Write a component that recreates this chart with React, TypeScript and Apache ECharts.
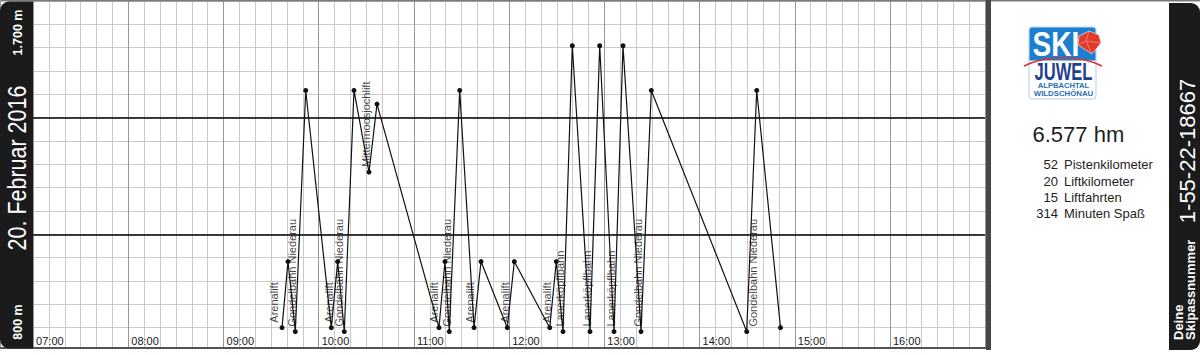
import React, { useEffect, useRef } from "react";
import * as echarts from "echarts";

// ---- data ----
const lifts = [
  "Arenalift", "Gondelbahn Niederau", "Arenalift", "Gondelbahn Niederau", "Mittermoosjochlift",
  "Arenalift", "Gondelbahn Niederau", "Arenalift", "Arenalift", "Arenalift",
  "Lanerköpflbahn", "Lanerköpflbahn", "Lanerköpflbahn", "Gondelbahn Niederau", "Gondelbahn Niederau",
];
const boardTimes = [
  "09:36:52", "09:45:14", "10:07:55", "10:16:07", "10:31:41",
  "11:15:47", "11:22:17", "11:37:52", "11:58:50", "12:25:34",
  "12:33:56", "12:50:57", "13:06:05", "13:23:06", "14:29:42",
];
const boardAltitudes = [860, 850, 860, 850, 1260, 860, 850, 860, 860, 860, 850, 850, 850, 850, 850];
const summitTimes = [
  "09:40:38", "09:51:48", "10:11:58", "10:22:13", "10:36:43",
  "11:19:34", "11:28:50", "11:42:16", "12:03:15", "12:29:43",
  "12:39:48", "12:57:04", "13:11:45", "13:29:36", "14:36:01",
];
const summitAltitudes = [1030, 1470, 1030, 1470, 1435, 1030, 1470, 1030, 1030, 1030, 1585, 1585, 1585, 1470, 1470];
const scanTimes = [
  "09:31:30", "09:43:10", "10:06:30", "10:13:05", "10:29:47",
  "11:12:28", "11:20:38", "11:35:31", "11:57:11", "12:23:52",
  "12:32:02", "12:49:19", "13:04:04", "13:21:23", "14:33:40",
];
const finishTime = "14:51:00";
const finishAltitude = 860;

const hourLabels = ["07:00", "08:00", "09:00", "10:00", "11:00", "12:00", "13:00", "14:00", "15:00", "16:00", "17:00"];
const altitudeMin = 800;
const altitudeMax = 1700;
const altitudeStep = 60;
const boldLines = [1100, 1400];
const altitudeLabels = ["1.700 m", "800 m"];

const dateLabel = "20. Februar 2016";
const totalHm = "6.577 hm";
const statValues = ["52", "20", "15", "314"];
const statLabels = ["Pistenkilometer", "Liftkilometer", "Liftfahrten", "Minuten Spaß"];
const passNumber = "1-55-22-18667";
const passCaption = ["Deine", "Skipassnummer"];

const toMin = (t: string) => {
  const [h, m, s] = t.split(":").map(Number);
  return h * 60 + m + (s || 0) / 60;
};

const FONT = "'Liberation Sans', Arial, Helvetica, sans-serif";

function txt(o: any) {
  const st = o.style || {};
  if (st.textAlign) st.align = st.textAlign;
  if (st.textVerticalAlign) st.verticalAlign = st.textVerticalAlign;
  return { type: "text", z: 110, ...o, style: { fontFamily: FONT, ...st } };
}

export default function App() {
  const ref = useRef<HTMLDivElement>(null);
  useEffect(() => {
    if (!ref.current) return;
    const chart = echarts.init(ref.current, undefined, { renderer: "svg" });

    const lineData: number[][] = [];
    for (let i = 0; i < lifts.length; i++) {
      lineData.push([toMin(boardTimes[i]), boardAltitudes[i]]);
      lineData.push([toMin(summitTimes[i]), summitAltitudes[i]]);
    }
    lineData.push([toMin(finishTime), finishAltitude]);

    const labelData = lifts.map((name, i) => ({
      name,
      value: [toMin(scanTimes[i]), boardAltitudes[i]],
    }));

    const xMin = toMin(hourLabels[0]);
    const xMax = toMin(hourLabels[hourLabels.length - 1]);

    const graphics: any[] = [
      { type: "rect", z: 100, shape: { x: 0, y: 349, width: 1200, height: 6 }, style: { fill: "#ffffff" } },
      { type: "rect", z: 101, shape: { x: 0, y: 0, width: 1200, height: 1.5 }, style: { fill: "#7a7a7a" } },
      { type: "rect", z: 101, shape: { x: 0, y: 0, width: 1, height: 349 }, style: { fill: "#9a9a9a" } },
      { type: "rect", z: 101, shape: { x: 0, y: 347, width: 990, height: 2 }, style: { fill: "#555555" } },
      { type: "rect", z: 101, shape: { x: 986, y: 0, width: 5, height: 350 }, style: { fill: "#474747" } },
      { type: "rect", z: 100, shape: { x: 991, y: 1.5, width: 178, height: 348 }, style: { fill: "#ffffff" } },
      { type: "rect", z: 102, shape: { x: 0, y: 1.5, width: 33, height: 347, r: [9, 0, 0, 9] }, style: { fill: "#1b1b1b" } },
      { type: "rect", z: 102, shape: { x: 1169, y: 3, width: 31, height: 347, r: [0, 9, 9, 0] }, style: { fill: "#1b1b1b" } },

      txt({ x: 18, y: 32.5, rotation: Math.PI / 2, style: { text: altitudeLabels[0], fill: "#fff", fontSize: 12.5, fontWeight: "bold", textAlign: "center", textVerticalAlign: "middle" } }),
      txt({ x: 17, y: 168, rotation: Math.PI / 2, scaleX: 0.86, style: { text: dateLabel, fill: "#fff", fontSize: 25, textAlign: "center", textVerticalAlign: "middle" } }),
      txt({ x: 18, y: 322, rotation: Math.PI / 2, style: { text: altitudeLabels[1], fill: "#fff", fontSize: 12.5, fontWeight: "bold", textAlign: "center", textVerticalAlign: "middle" } }),

      txt({ x: 1187, y: 151, rotation: Math.PI / 2, style: { text: passNumber, fill: "#fff", fontSize: 22, textAlign: "center", textVerticalAlign: "middle" } }),
      txt({ x: 1178.5, y: 340, rotation: Math.PI / 2, style: { text: passCaption[0], fill: "#fff", fontSize: 13, fontWeight: "bold", textAlign: "left", textVerticalAlign: "middle" } }),
      txt({ x: 1190.5, y: 340, rotation: Math.PI / 2, style: { text: passCaption[1], fill: "#fff", fontSize: 13, fontWeight: "bold", textAlign: "left", textVerticalAlign: "middle" } }),

      txt({ x: 1032.5, y: 134, style: { text: totalHm, fill: "#1e1e1e", fontSize: 22, textAlign: "left", textVerticalAlign: "middle" } }),

      // logo
      { type: "rect", z: 103, shape: { x: 1029, y: 27, width: 67, height: 72, r: 3 }, style: { fill: "#ffffff", stroke: "#b4cde6", lineWidth: 1 } },
      { type: "rect", z: 104, shape: { x: 1029.5, y: 27.5, width: 66, height: 33, r: [3, 3, 0, 0] }, style: { fill: "#1b7fcf" } },
      txt({ z: 105, x: 1032.5, y: 44, scaleX: 0.8, style: { text: "SKI", fill: "#fff", fontSize: 35, fontWeight: 900, textAlign: "left", textVerticalAlign: "middle" } }),
      { type: "polygon", z: 106, shape: { points: [[1079, 36], [1089, 31], [1099, 35], [1101, 43], [1092, 54], [1078, 45]] }, style: { fill: "#e23a2c", stroke: "#fff", lineWidth: 0.6 } },
      { type: "polyline", z: 107, shape: { points: [[1078, 45], [1086, 41], [1092, 54]] }, style: { stroke: "#f39a8e", lineWidth: 0.7, fill: null } },
      { type: "polyline", z: 107, shape: { points: [[1086, 41], [1089, 31]] }, style: { stroke: "#f39a8e", lineWidth: 0.7, fill: null } },
      { type: "polyline", z: 107, shape: { points: [[1086, 41], [1101, 43]] }, style: { stroke: "#f39a8e", lineWidth: 0.7, fill: null } },
      { type: "bezierCurve", z: 106, shape: { x1: 1024, y1: 66, x2: 1102, y2: 66, cpx1: 1046, cpy1: 55, cpx2: 1080, cpy2: 55 }, style: { stroke: "#d8333b", lineWidth: 1.6, fill: null } },
      txt({ z: 105, x: 1063.5, y: 72, scaleX: 0.72, style: { text: "JUWEL", fill: "#1f3f8f", fontSize: 23, fontWeight: 900, textAlign: "center", textVerticalAlign: "middle" } }),
      txt({ z: 105, x: 1063.5, y: 85, style: { text: "ALPBACHTAL", fill: "#2a6db6", fontSize: 7.6, lineHeight: 7.6, fontWeight: "bold", textAlign: "center", textVerticalAlign: "middle" } }),
      txt({ z: 105, x: 1063.5, y: 93.2, style: { text: "WILDSCHÖNAU", fill: "#2a6db6", fontSize: 7.8, lineHeight: 7.8, fontWeight: "bold", textAlign: "center", textVerticalAlign: "middle" } }),
    ];

    const rowY = [164.5, 181, 197, 213];
    statValues.forEach((v, i) => {
      graphics.push(txt({ x: 1058, y: rowY[i], style: { text: v, fill: "#1e1e1e", fontSize: 13, textAlign: "right", textVerticalAlign: "middle" } }));
      graphics.push(txt({ x: 1064, y: rowY[i], style: { text: statLabels[i], fill: "#1e1e1e", fontSize: 13, textAlign: "left", textVerticalAlign: "middle" } }));
    });

    chart.setOption({
      animation: false,
      backgroundColor: "#ffffff",
      grid: { left: 33.1, top: 1, width: 952.1, height: 350, containLabel: false },
      xAxis: {
        type: "value",
        min: xMin,
        max: xMax,
        interval: 60,
        axisLine: { show: false },
        axisTick: { show: false },
        minorTick: { show: false, splitNumber: 6 },
        splitLine: { show: true, lineStyle: { color: "#969696", width: 1 } },
        minorSplitLine: { show: true, lineStyle: { color: "#c9c9c9", width: 1 } },
        axisLabel: {
          inside: true,
          margin: 5,
          align: "left",
          padding: [0, 0, 0, 3],
          fontSize: 11,
          color: "#1a1a1a",
          fontFamily: FONT,
          showMaxLabel: false,
          formatter: (v: number) => {
            const idx = Math.round((v - xMin) / 60);
            return idx < hourLabels.length - 1 ? hourLabels[idx] : "";
          },
        },
      },
      yAxis: {
        type: "value",
        min: altitudeMin,
        max: altitudeMax,
        interval: altitudeStep,
        axisLine: { show: false },
        axisTick: { show: false },
        axisLabel: { show: false },
        splitLine: { show: true, lineStyle: { color: "#c9c9c9", width: 1 } },
      },
      graphic: { elements: graphics },
      series: [
        {
          type: "line",
          data: lineData,
          symbol: "circle",
          symbolSize: 5,
          showAllSymbol: true,
          itemStyle: { color: "#111" },
          lineStyle: { color: "#111", width: 1.2 },
          z: 5,
          markLine: {
            silent: true,
            symbol: "none",
            label: { show: false },
            lineStyle: { color: "#000", width: 1.5, type: "solid" },
            data: boldLines.map((v) => ({ yAxis: v })),
          },
        },
        {
          type: "scatter",
          data: labelData,
          symbolSize: 1,
          itemStyle: { color: "rgba(0,0,0,0)" },
          z: 6,
          label: {
            show: true,
            formatter: "{b}",
            position: [0.5, -4.5],
            rotate: 90,
            align: "left",
            verticalAlign: "middle",
            fontSize: 11,
            color: "#111",
            fontFamily: FONT,
          },
        },
      ],
    });
    return () => chart.dispose();
  }, []);

  return (
    <div
      ref={ref}
      style={{ position: "fixed", left: 0, top: 0, width: 1200, height: 355, background: "#fff" }}
    />
  );
}
